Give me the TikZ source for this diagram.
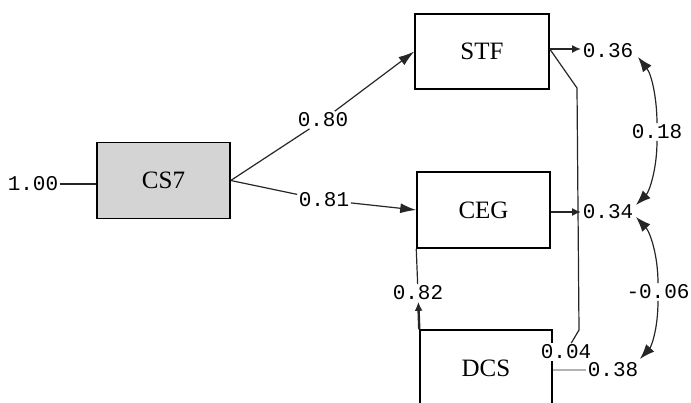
\documentclass[tikz,border=0pt]{standalone}
\usepackage{fontspec}
\setmainfont{Liberation Serif}
\newfontfamily\numfont{Liberation Mono}
\usetikzlibrary{arrows.meta}
\begin{document}
\begin{tikzpicture}[x=1pt,y=-1pt,
  varbox/.style={draw, line width=1.5pt, minimum width=133pt, minimum height=76pt, inner sep=0pt, font=\fontsize{25}{25}\selectfont},
  lab/.style={font=\numfont\fontsize{21}{21}\selectfont, inner sep=1.5pt, fill=white},
  conn/.style={line width=1.2pt, black!85},
  tip/.style={-{Latex[length=16pt,width=10pt]}},
  tipstart/.style={{Latex[length=15pt,width=11pt]}-},
  tipend/.style={-{Latex[length=15pt,width=11pt]}},
  etip/.style={-{Latex[length=9pt,width=8pt]}, line width=2.4pt}]
\useasboundingbox (0,0) rectangle (691,403);
\clip (0,0) rectangle (691,403);
% boxes
\node[varbox, fill=black!17] (CS7) at (163.5,180.5) {CS7};
\node[varbox, minimum width=134pt, minimum height=75pt] (STF) at (482,51.5) {STF};
\node[varbox] (CEG) at (483.5,210) {CEG};
\node[varbox, minimum width=132pt] (DCS) at (486,368) {DCS};
% labels
\node[lab] (l100) at (33,184) {1.00};
\node[lab] (l80) at (323,120) {0.80};
\node[lab] (l81) at (324,200) {0.81};
\node[lab] (l36) at (608,51) {0.36};
\node[lab] (l34) at (608,212) {0.34};
\node[lab] (l18) at (657,132) {0.18};
\node[lab] (l06) at (658,292) {-0.06};
\node[lab] (l82) at (418,293) {0.82};
\node[lab] (l04) at (566,352) {0.04};
\node[lab] (l38) at (613,370) {0.38};
% free ends
\coordinate (c1) at (577,88);
\coordinate (c2) at (579,330);
\coordinate (t36) at (638,57);
\coordinate (t34a) at (636,205);
\coordinate (t34b) at (636,217);
\coordinate (t38) at (640,359);
% CS7 variance
\draw[conn] (l100.east) -- (CS7.west |- l100);
% paths
\draw[conn] (CS7.east) -- (l80);
\draw[conn, tip] (l80) -- (STF.west);
\draw[conn] (CS7.east) -- (l81);
\draw[conn, tip] (l81) -- (CEG.west);
% error arrows
\draw[conn, etip] (STF.east |- 0,49) -- (l36.west |- 0,49);
\draw[conn, etip] (CEG.east |- l34) -- (l34.west);
\draw[line width=1.4pt, black!30] (DCS.east |- l38) -- (l38.west);
% CEG - DCS
\draw[conn] (CEG.south west) -- (l82);
\draw[conn, etip] (DCS.north west) -- (l82);
% STF - DCS
\draw[conn] (STF.east |- 0,49) -- (c1) -- (c2) -- (l04);
% covariances
\draw[conn, tipstart] (t36) .. controls (652,75) and (657,100) .. (l18.north);
\draw[conn, tipend] (l18.south) .. controls (657,170) and (649,192) .. (t34a);
\draw[conn, tipstart] (t34b) .. controls (650,232) and (658,255) .. (l06.north);
\draw[conn, tipend] (l06.south) .. controls (658,330) and (651,347) .. (t38);
\end{tikzpicture}
\end{document}
